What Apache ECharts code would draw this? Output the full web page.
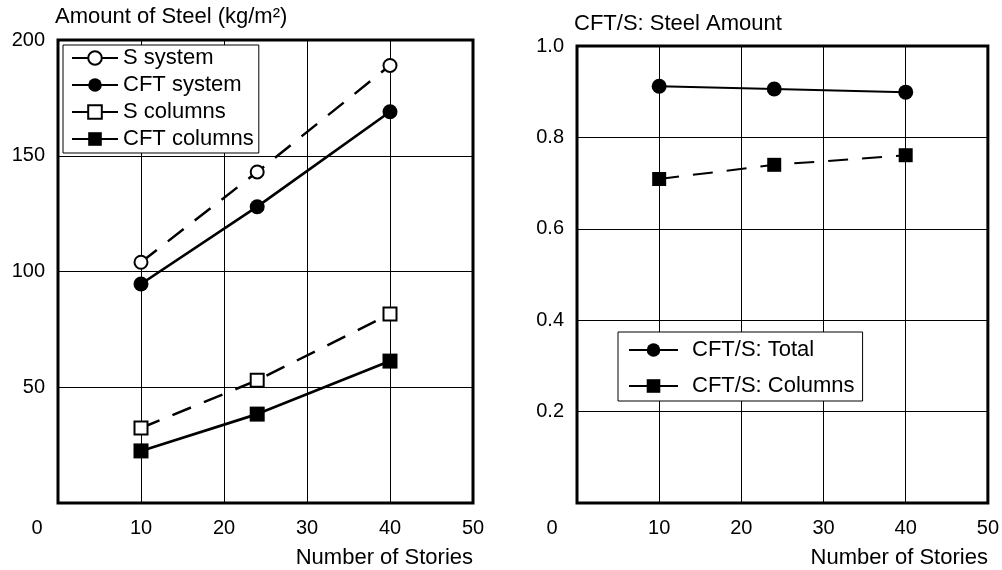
<!DOCTYPE html>
<html><head><meta charset="utf-8">
<script src="https://cdn.jsdelivr.net/npm/echarts@6/dist/echarts.min.js"></script>
<style>html,body{margin:0;padding:0;background:#fff}#c{width:1002px;height:570px}</style>
</head><body><div id="c"></div>
<script>
const stories = [10, 24, 40];
const sSystem = [104, 143, 189];
const cftSystem = [94.6, 128, 169];
const sColumns = [32.4, 53, 81.6];
const cftColumns = [22.5, 38.4, 61.3];
const ratioTotal = [0.912, 0.906, 0.899];
const ratioColumns = [0.709, 0.740, 0.761];
const leftNames = ['S system', 'CFT system', 'S columns', 'CFT columns'];
const rightNames = ['CFT/S: Total', 'CFT/S: Columns'];
const leftTitle = 'Amount of Steel (kg/m\u00B2)';
const rightTitle = 'CFT/S: Steel Amount';
const xName = 'Number of Stories';

const FONT = 'Liberation Sans, Arial, Helvetica, sans-serif';
const zip = vals => stories.map((s, i) => [s, vals[i]]);

function xAxisCfg(gridIndex, zeroPad) {
  return {
    type: 'value', gridIndex, min: 0, max: 50, interval: 10,
    axisLine: { show: false }, axisTick: { show: false },
    splitLine: { show: true, lineStyle: { color: '#000', width: 1 } },
    axisLabel: {
      color: '#000', fontSize: 20, fontFamily: FONT, margin: 15,
      formatter: v => v === 0 ? '{o|0}' : String(v),
      rich: { o: { fontSize: 20, fontFamily: FONT, color: '#000', padding: [0, zeroPad, 0, 0] } }
    },
    name: xName, nameLocation: 'end', nameGap: 0,
    nameTextStyle: { color: '#000', fontSize: 22, fontFamily: FONT, align: 'right', verticalAlign: 'top', padding: [44, 0, 0, 0] }
  };
}
function yAxisCfg(gridIndex, max, interval, title, fmt, gap) {
  return {
    type: 'value', gridIndex, min: 0, max, interval,
    axisLine: { show: false }, axisTick: { show: false },
    splitLine: { show: true, lineStyle: { color: '#000', width: 1 } },
    axisLabel: { color: '#000', fontSize: 20, fontFamily: FONT, margin: 13, showMinLabel: false, formatter: fmt },
    name: title, nameLocation: 'end', nameGap: gap,
    nameTextStyle: { color: '#000', fontSize: 22, fontFamily: FONT, align: 'left', padding: [0, 0, 0, -3] }
  };
}
function lineSeries(name, vals, xi, dashed, symbol, size, width) {
  return {
    name, type: 'line', xAxisIndex: xi, yAxisIndex: xi, data: zip(vals),
    symbol, symbolSize: size, showSymbol: true,
    lineStyle: { color: '#000', width, type: dashed ? [20, 14] : 'solid' },
    itemStyle: { color: '#000', borderColor: '#000', borderWidth: symbol.startsWith('empty') ? 1.6 : 0 },
    emphasis: { disabled: true }, animation: false, z: 3
  };
}

const chart = echarts.init(document.getElementById('c'), null, { renderer: 'canvas' });
chart.setOption({
  animation: false,
  textStyle: { fontFamily: FONT, color: '#000' },
  grid: [
    { left: 58, top: 40, right: 529, bottom: 67, show: true, borderColor: '#000', borderWidth: 3, backgroundColor: 'transparent' },
    { left: 577, top: 46, right: 12, bottom: 67, show: true, borderColor: '#000', borderWidth: 3, backgroundColor: 'transparent' }
  ],
  xAxis: [xAxisCfg(0, 42), xAxisCfg(1, 50)],
  yAxis: [
    yAxisCfg(0, 200, 50, leftTitle, v => String(v), 12),
    yAxisCfg(1, 1.0, 0.2, rightTitle, v => v.toFixed(1), 11)
  ],
  legend: [
    {
      data: leftNames, orient: 'vertical', left: 63, top: 45,
      itemWidth: 46, itemHeight: 17, itemGap: 5,
      padding: [2, 5, 3, 8], borderColor: '#000', borderWidth: 1, backgroundColor: '#fff',
      textStyle: { color: '#000', fontSize: 22, fontFamily: FONT },
      lineStyle: { type: 'solid', width: 2 }, selectedMode: false
    },
    {
      data: rightNames, orient: 'vertical', left: 618, top: 332,
      itemWidth: 49, itemHeight: 17, itemGap: 14,
      padding: [7, 8, 4, 10], borderColor: '#000', borderWidth: 1, backgroundColor: '#fff',
      textStyle: { color: '#000', fontSize: 22, fontFamily: FONT, padding: [0, 0, 0, 9] },
      lineStyle: { type: 'solid', width: 2 }, selectedMode: false
    }
  ],
  series: [
    lineSeries(leftNames[0], sSystem, 0, true, 'emptyCircle', 13, 2.5),
    lineSeries(leftNames[1], cftSystem, 0, false, 'circle', 15, 2.7),
    lineSeries(leftNames[2], sColumns, 0, true, 'emptyRect', 13, 2.5),
    lineSeries(leftNames[3], cftColumns, 0, false, 'rect', 15, 2.7),
    lineSeries(rightNames[0], ratioTotal, 1, false, 'circle', 15, 2),
    lineSeries(rightNames[1], ratioColumns, 1, true, 'rect', 14, 2)
  ]
});
</script></body></html>
